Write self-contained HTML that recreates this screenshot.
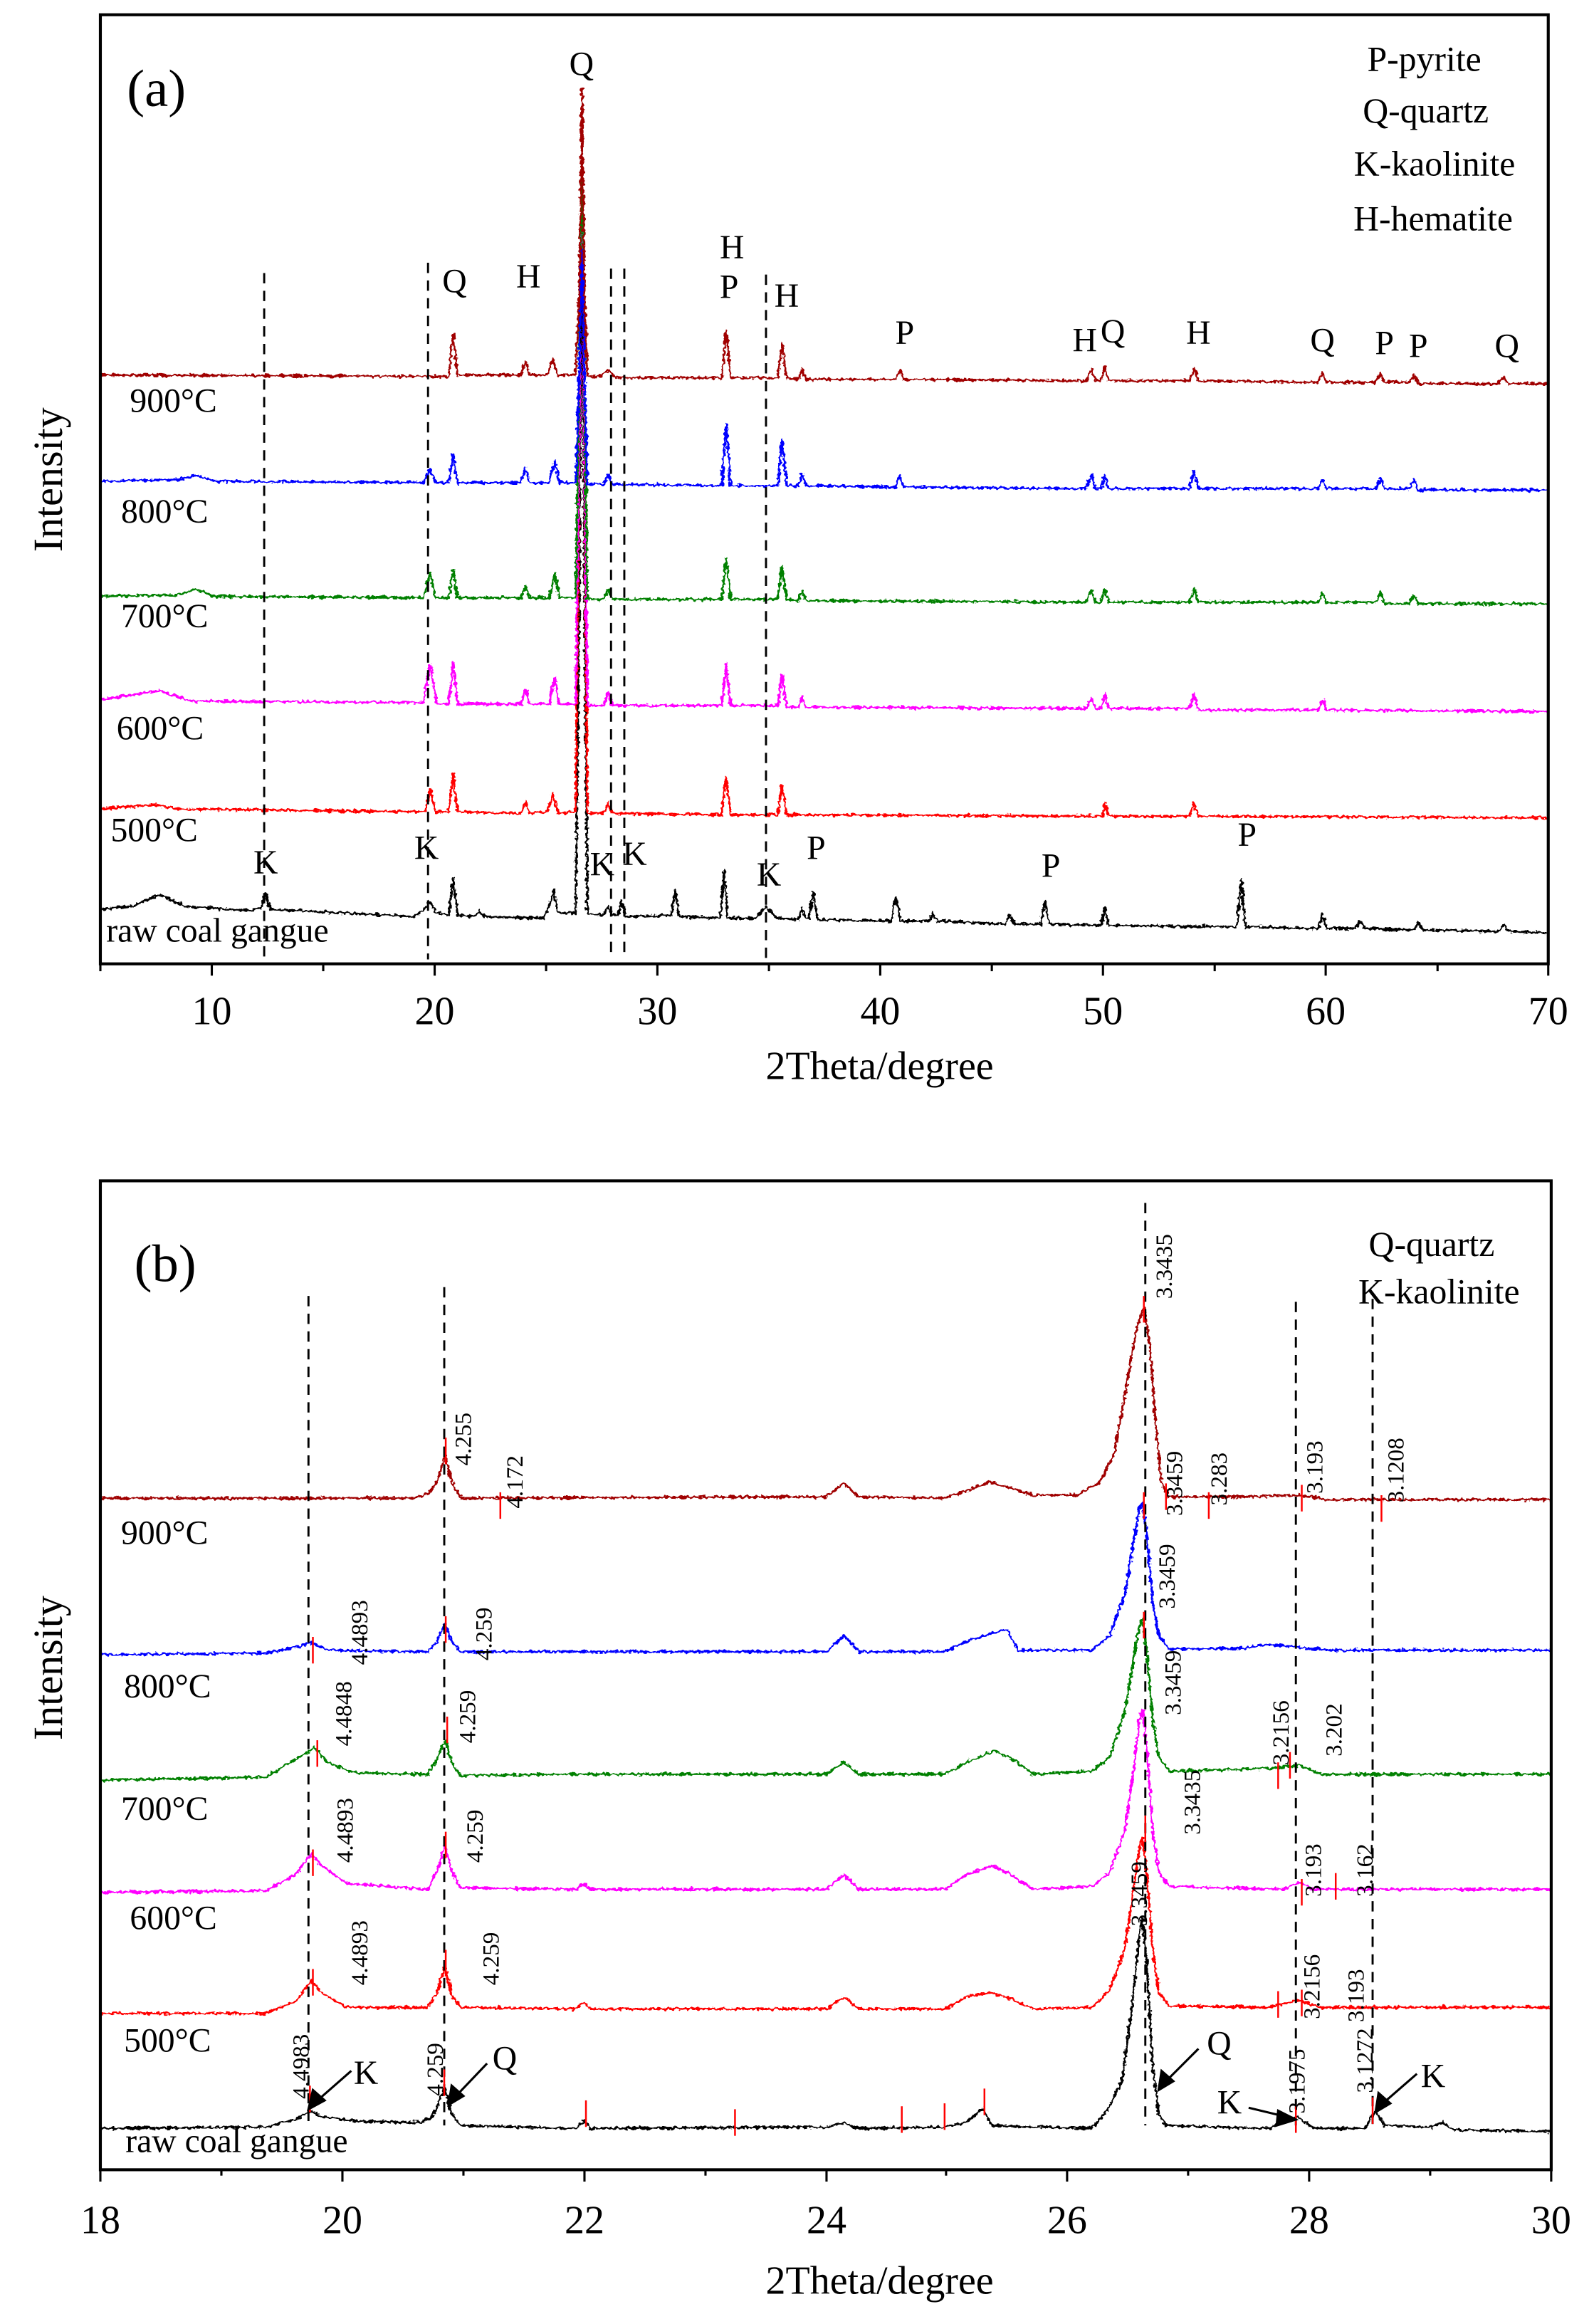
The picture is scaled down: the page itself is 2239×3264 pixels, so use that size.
<!DOCTYPE html>
<html><head><meta charset="utf-8">
<style>html,body{margin:0;padding:0;background:#fff}svg{display:block}text{font-family:"Liberation Serif",serif;fill:#000}</style>
</head><body>
<svg xmlns="http://www.w3.org/2000/svg" width="2239" height="3264" viewBox="0 0 1080 1574.5" preserveAspectRatio="none">
<defs>
<filter id="nz" filterUnits="userSpaceOnUse" x="0" y="0" width="1080" height="1575">
<feTurbulence type="fractalNoise" baseFrequency="0.4" numOctaves="2" seed="3" result="t"/>
<feDisplacementMap in="SourceGraphic" in2="t" scale="3.5" xChannelSelector="R" yChannelSelector="G"/>
</filter>
</defs>
<rect x="0" y="0" width="1080" height="1575" fill="#fff"/>
<g fill="none" stroke-width="1.5" stroke-linejoin="round" filter="url(#nz)">
<path stroke="#000" d="M68,616 L90,614 L108,606 L125,614 L170,617 L177,615 L180,605 L183,616 L280,621 L287,617 L291,610 L295,618 L304,620 L307,595 L310,620 L322,621 L325,617 L328,621 L368,622 L372,614 L375,603 L378,618 L390,619 L392,450 L394.3,150 L396.5,450 L398,619 L409,620 L412,614 L415,620 L419,620 L421,610 L424,621 L455,620 L457.4,603 L460,621 L488,622 L490.6,590 L493,622 L512,622 L519,614 L526,622 L541,623 L543.4,615 L546,622 L548,622 L551,604 L554,623 L604,624 L607,608 L610,624 L630,624 L632,618 L635,624 L681,626 L684,620 L687,626 L705,626 L708,610 L711,626 L746,627 L748.6,614 L751,627 L838,628 L841,596 L844,628 L893,629 L896,620 L899,629 L918,629 L921.6,624 L925,629 L958,630 L961,625 L964,630 L1016,631 L1019,626 L1022,631 L1049,632"/>
<path stroke="#f00" d="M68,548 L105,545 L120,548 L288,550 L291.4,534 L295,550 L304,550 L307,524 L310,550 L353,551 L356,543 L359,551 L371,550 L374.4,537 L378,551 L390,550 L392.5,300 L394.3,60 L396,300 L398,551 L409,551 L412,544 L415,551 L489,552 L492,526 L495,552 L527,552 L529.8,532 L533,552 L747,553 L748.6,544 L751,553 L806,553 L809,544 L812,553 L1049,554"/>
<path stroke="#f0f" d="M68,474 L108,468 L130,475 L287,476 L291.4,450 L296,477 L304,477 L307,449 L310,477 L353,477 L356,467 L359,477 L372,477 L375.9,459 L379,477 L390,477 L392.5,300 L394.3,80 L396,300 L398,478 L409,478 L412,469 L415,478 L489,478 L492,450 L495,478 L527,478 L529.8,457 L533,479 L541,479 L543.4,472 L546,479 L736,480 L739.6,473 L742,480 L746,480 L748.6,470 L751,480 L806,480 L809,470 L812,481 L893,481 L896,474 L899,481 L1049,482"/>
<path stroke="#008000" d="M68,404 L120,403 L133,399 L145,404 L287,405 L291.4,388 L295,405 L304,405 L307,386 L310,405 L353,405 L356,397 L359,405 L372,405 L375.9,389 L379,405 L390,405 L392.5,250 L394.3,80 L396,250 L398,406 L409,406 L412,399 L415,406 L489,406 L492,378 L495,406 L527,406 L529.8,384 L533,406 L541,407 L543.4,400 L546,407 L736,408 L739.6,400 L742,408 L746,408 L748.6,399 L751,408 L806,408 L809,399 L812,408 L893,408 L896,402 L899,408 L932,408 L935.4,401 L938,409 L955,409 L958,403 L961,409 L1049,409"/>
<path stroke="#00f" d="M68,326 L120,325 L133,322 L145,326 L287,327 L291.4,318 L295,327 L304,327 L307,308 L310,327 L353,327 L356,317 L359,327 L372,327 L375.9,312 L379,327 L390,327 L392.5,250 L394.3,170 L396,250 L398,328 L409,328 L412,322 L415,328 L489,329 L492,287 L495,329 L527,329 L529.8,298 L533,329 L541,329 L543.4,321 L546,329 L607,330 L609.8,322 L612,330 L736,331 L739.6,321 L742,331 L746,331 L748.6,322 L751,331 L806,331 L809,319 L812,331 L893,331 L896,325 L899,331 L932,331 L935.4,324 L938,331 L955,331 L958,325 L961,332 L1049,332"/>
<path stroke="#a00000" d="M68,254 L280,255 L304,255 L307,226 L310,254 L353,254 L356,245 L359,254 L371,254 L374.4,243 L378,254 L390,254 L392.5,200 L394.3,60 L396,200 L398,255 L407,255 L412,251 L417,256 L489,256 L492,224 L495,256 L527,256 L529.8,232 L533,256 L541,257 L543.4,250 L546,257 L607,257 L609.8,251 L612,257 L736,258 L739.6,250 L742,258 L746,258 L748.6,248 L751,258 L806,258 L809,249 L812,258 L893,259 L896,253 L899,259 L932,259 L935.4,253 L938,259 L955,259 L958,254 L961,260 L1015,260 L1018.8,255 L1022,260 L1049,260"/>
<path stroke="#000" d="M68,1442 L180,1441 L200,1436 L211,1430 L218,1434 L240,1437 L285,1438 L293,1434 L297,1425 L301.5,1414 L305,1430 L312,1440 L390,1442 L395.7,1437 L400,1442 L560,1441 L571.8,1438 L580,1442 L640,1441 L655,1438 L666,1428 L672,1440 L740,1442 L750,1430 L760,1410 L767,1360 L772,1310 L774,1300 L777,1330 L781,1400 L785,1432 L790,1440 L860,1442 L870,1436 L879,1434 L890,1442 L925,1442 L932,1430 L938,1440 L970,1441 L977,1438 L985,1443 L1051,1444"/>
<path stroke="#f00" d="M68,1364 L180,1364 L200,1356 L211,1342 L218,1350 L235,1360 L290,1360 L296,1350 L301.5,1332 L306,1352 L312,1360 L390,1361 L395.7,1357 L400,1361 L560,1361 L571.8,1353 L582,1361 L640,1361 L655,1353 L670,1350 L685,1354 L700,1361 L740,1360 L752,1348 L762,1320 L768,1280 L772,1252 L774,1245 L777,1270 L781,1320 L785,1350 L792,1359 L860,1360 L880,1355 L895,1360 L1051,1360"/>
<path stroke="#f0f" d="M68,1282 L180,1281 L200,1270 L211,1256 L218,1264 L235,1276 L290,1280 L296,1268 L301.5,1250 L306,1268 L312,1279 L390,1280 L395.7,1276 L400,1280 L560,1280 L571.8,1270 L582,1280 L640,1280 L655,1270 L672,1264 L685,1270 L700,1280 L740,1278 L752,1268 L762,1240 L768,1200 L772,1165 L774,1158 L777,1185 L781,1240 L785,1268 L792,1278 L870,1280 L880,1275 L890,1280 L1051,1280"/>
<path stroke="#008000" d="M68,1206 L180,1204 L200,1192 L213,1184 L222,1194 L240,1201 L290,1202 L296,1192 L301.5,1179 L306,1194 L312,1203 L390,1202 L560,1202 L571.8,1194 L582,1202 L640,1202 L655,1194 L674,1186 L688,1193 L700,1202 L740,1200 L752,1190 L762,1160 L768,1125 L772,1102 L774,1097 L777,1120 L781,1165 L785,1190 L792,1200 L860,1198 L880,1196 L895,1202 L1051,1202"/>
<path stroke="#00f" d="M68,1121 L180,1120 L200,1116 L211,1113 L222,1118 L290,1119 L296,1112 L301.5,1100 L306,1112 L312,1119 L560,1119 L571.8,1108 L582,1119 L640,1119 L655,1112 L674,1106 L682,1104 L690,1118 L740,1118 L752,1108 L762,1080 L768,1045 L772,1022 L774,1018 L777,1040 L781,1085 L785,1108 L792,1117 L840,1117 L860,1114 L880,1116 L900,1118 L1051,1118"/>
<path stroke="#a00000" d="M68,1015 L280,1015 L290,1012 L296,1004 L301.5,986 L306,1004 L312,1015 L560,1014 L571.8,1005 L582,1014 L640,1015 L655,1010 L670,1004 L685,1008 L700,1013 L730,1013 L745,1004 L755,985 L763,940 L770,900 L775,885 L779,910 L783,965 L787,1005 L792,1014 L840,1014 L880,1013 L900,1016 L1051,1016"/>
</g>
<g stroke="#000" stroke-width="1.4" stroke-dasharray="7,5" fill="none">
<line x1="179" y1="185" x2="179" y2="650"/>
<line x1="290" y1="178" x2="290" y2="650"/>
<line x1="414" y1="182" x2="414" y2="650"/>
<line x1="423" y1="182" x2="423" y2="650"/>
<line x1="519" y1="186" x2="519" y2="650"/>
<line x1="209" y1="878" x2="209" y2="1440"/>
<line x1="301" y1="872" x2="301" y2="1440"/>
<line x1="776" y1="815" x2="776" y2="1440"/>
<line x1="878" y1="882" x2="878" y2="1440"/>
<line x1="930" y1="880" x2="930" y2="1440"/>
</g>
<g stroke="#000" stroke-width="1.5">
<line x1="68" y1="653" x2="68" y2="658"/><line x1="143.5" y1="653" x2="143.5" y2="661"/><line x1="219" y1="653" x2="219" y2="658"/><line x1="294.5" y1="653" x2="294.5" y2="661"/><line x1="370" y1="653" x2="370" y2="658"/><line x1="445.4" y1="653" x2="445.4" y2="661"/><line x1="521" y1="653" x2="521" y2="658"/><line x1="596.4" y1="653" x2="596.4" y2="661"/><line x1="672" y1="653" x2="672" y2="658"/><line x1="747.3" y1="653" x2="747.3" y2="661"/><line x1="823" y1="653" x2="823" y2="658"/><line x1="898.2" y1="653" x2="898.2" y2="661"/><line x1="974" y1="653" x2="974" y2="658"/><line x1="1049" y1="653" x2="1049" y2="661"/>
<line x1="68" y1="1470" x2="68" y2="1478"/><line x1="150" y1="1470" x2="150" y2="1474"/><line x1="232" y1="1470" x2="232" y2="1478"/><line x1="314" y1="1470" x2="314" y2="1474"/><line x1="396" y1="1470" x2="396" y2="1478"/><line x1="478" y1="1470" x2="478" y2="1474"/><line x1="560" y1="1470" x2="560" y2="1478"/><line x1="641" y1="1470" x2="641" y2="1474"/><line x1="723" y1="1470" x2="723" y2="1478"/><line x1="805" y1="1470" x2="805" y2="1474"/><line x1="887" y1="1470" x2="887" y2="1478"/><line x1="969" y1="1470" x2="969" y2="1474"/><line x1="1051" y1="1470" x2="1051" y2="1478"/>
</g>
<g stroke="#f00" stroke-width="1.2">
<line x1="775" y1="878" x2="775" y2="896"/><line x1="302" y1="974" x2="302" y2="992"/><line x1="339" y1="1011" x2="339" y2="1029"/><line x1="790" y1="1005" x2="790" y2="1023"/><line x1="819" y1="1011" x2="819" y2="1029"/><line x1="882" y1="1006" x2="882" y2="1024"/><line x1="936" y1="1013" x2="936" y2="1031"/><line x1="212" y1="1109" x2="212" y2="1127"/><line x1="302" y1="1095" x2="302" y2="1113"/><line x1="775" y1="1011" x2="775" y2="1029"/><line x1="215" y1="1179" x2="215" y2="1197"/><line x1="303" y1="1163" x2="303" y2="1181"/><line x1="866" y1="1194" x2="866" y2="1212"/><line x1="874" y1="1187" x2="874" y2="1205"/><line x1="212" y1="1253" x2="212" y2="1271"/><line x1="302" y1="1241" x2="302" y2="1259"/><line x1="882" y1="1273" x2="882" y2="1291"/><line x1="905" y1="1269" x2="905" y2="1287"/><line x1="775" y1="1092" x2="775" y2="1110"/><line x1="212" y1="1334" x2="212" y2="1352"/><line x1="302" y1="1321" x2="302" y2="1339"/><line x1="866" y1="1349" x2="866" y2="1367"/><line x1="882" y1="1348" x2="882" y2="1366"/><line x1="210" y1="1413" x2="210" y2="1431"/><line x1="301" y1="1402" x2="301" y2="1420"/><line x1="878" y1="1427" x2="878" y2="1445"/><line x1="930" y1="1421" x2="930" y2="1439"/><line x1="397" y1="1423" x2="397" y2="1441"/><line x1="498" y1="1429" x2="498" y2="1447"/><line x1="611" y1="1427" x2="611" y2="1445"/><line x1="640" y1="1425" x2="640" y2="1443"/><line x1="667" y1="1415" x2="667" y2="1433"/><line x1="776" y1="1230" x2="776" y2="1248"/>
</g>
<rect x="68" y="10" width="981" height="643" fill="none" stroke="#000" stroke-width="2"/>
<rect x="68" y="800" width="983" height="670" fill="none" stroke="#000" stroke-width="2"/>
<g font-size="27" text-anchor="middle">
<text x="143.5" y="694">10</text><text x="294.5" y="694">20</text><text x="445.4" y="694">30</text><text x="596.4" y="694">40</text><text x="747.3" y="694">50</text><text x="898.2" y="694">60</text><text x="1049" y="694">70</text>
<text x="68" y="1513">18</text><text x="232" y="1513">20</text><text x="396" y="1513">22</text><text x="560" y="1513">24</text><text x="723" y="1513">26</text><text x="887" y="1513">28</text><text x="1051" y="1513">30</text>
</g>
<text x="596" y="731" font-size="27" text-anchor="middle">2Theta/degree</text>
<text x="596" y="1554" font-size="27" text-anchor="middle">2Theta/degree</text>
<text transform="translate(42,325) rotate(-90)" font-size="28" text-anchor="middle">Intensity</text>
<text transform="translate(42,1130) rotate(-90)" font-size="28" text-anchor="middle">Intensity</text>
<text x="86" y="72" font-size="36">(a)</text>
<text x="91" y="868" font-size="36">(b)</text>
<g font-size="24" text-anchor="middle">
<text x="965" y="48">P-pyrite</text><text x="966" y="83">Q-quartz</text><text x="972" y="119">K-kaolinite</text><text x="971" y="156">H-hematite</text>
<text x="970" y="851">Q-quartz</text><text x="975" y="883">K-kaolinite</text>
</g>
<g font-size="23">
<text x="88" y="279">900°C</text><text x="82" y="354">800°C</text><text x="82" y="425">700°C</text><text x="79" y="501">600°C</text><text x="75" y="570">500°C</text><text x="72" y="638">raw coal gangue</text>
<text x="82" y="1046">900°C</text><text x="84" y="1150">800°C</text><text x="82" y="1233">700°C</text><text x="88" y="1307">600°C</text><text x="84" y="1390">500°C</text><text x="85" y="1458">raw coal gangue</text>
</g>
<g font-size="23" text-anchor="middle">
<text x="394" y="51">Q</text><text x="308" y="198">Q</text><text x="358" y="195">H</text><text x="496" y="175">H</text><text x="494" y="202">P</text><text x="533" y="208">H</text><text x="613" y="233">P</text><text x="735" y="238">H</text><text x="754" y="232">Q</text><text x="812" y="233">H</text><text x="896" y="238">Q</text><text x="938" y="240">P</text><text x="961" y="242">P</text><text x="1021" y="242">Q</text>
<text x="180" y="592">K</text><text x="289" y="582">K</text><text x="408" y="593">K</text><text x="430" y="586">K</text><text x="521" y="600">K</text><text x="553" y="582">P</text><text x="712" y="594">P</text><text x="845" y="573">P</text>
<text x="248" y="1412">K</text><text x="342" y="1402">Q</text><text x="826" y="1392">Q</text><text x="833" y="1432">K</text><text x="971" y="1414">K</text>
</g>
<g stroke="#000" stroke-width="1.5" fill="#000">
<line x1="238" y1="1403" x2="214" y2="1424"/><polygon points="209,1429 212,1416 220,1423"/>
<line x1="330" y1="1398" x2="309" y2="1420"/><polygon points="304,1426 306,1413 314,1420"/>
<line x1="812" y1="1388" x2="790" y2="1410"/><polygon points="785,1416 787,1403 795,1410"/>
<line x1="846" y1="1428" x2="871" y2="1434"/><polygon points="878,1436 866,1430 865,1440"/>
<line x1="960" y1="1405" x2="937" y2="1425"/><polygon points="932,1431 934,1418 942,1425"/>
</g>
<g font-size="16">
<text transform="translate(794,880) rotate(-90)">3.3435</text>
<text transform="translate(319,993) rotate(-90)">4.255</text>
<text transform="translate(354,1022) rotate(-90)">4.172</text>
<text transform="translate(801,1027) rotate(-90)">3.3459</text>
<text transform="translate(831,1020) rotate(-90)">3.283</text>
<text transform="translate(896,1012) rotate(-90)">3.193</text>
<text transform="translate(951,1018) rotate(-90)">3.1208</text>
<text transform="translate(249,1128) rotate(-90)">4.4893</text>
<text transform="translate(333,1125) rotate(-90)">4.259</text>
<text transform="translate(796,1090) rotate(-90)">3.3459</text>
<text transform="translate(800,1162) rotate(-90)">3.3459</text>
<text transform="translate(238,1183) rotate(-90)">4.4848</text>
<text transform="translate(322,1181) rotate(-90)">4.259</text>
<text transform="translate(873,1196) rotate(-90)">3.2156</text>
<text transform="translate(909,1190) rotate(-90)">3.202</text>
<text transform="translate(813,1243) rotate(-90)">3.3435</text>
<text transform="translate(239,1262) rotate(-90)">4.4893</text>
<text transform="translate(327,1262) rotate(-90)">4.259</text>
<text transform="translate(895,1285) rotate(-90)">3.193</text>
<text transform="translate(930,1285) rotate(-90)">3.162</text>
<text transform="translate(777,1305) rotate(-90)">3.3459</text>
<text transform="translate(249,1345) rotate(-90)">4.4893</text>
<text transform="translate(338,1345) rotate(-90)">4.259</text>
<text transform="translate(894,1368) rotate(-90)">3.2156</text>
<text transform="translate(924,1370) rotate(-90)">3.193</text>
<text transform="translate(209,1422) rotate(-90)">4.4983</text>
<text transform="translate(300,1420) rotate(-90)">4.259</text>
<text transform="translate(884,1432) rotate(-90)">3.1975</text>
<text transform="translate(930,1418) rotate(-90)">3.1272</text>
</g>
</svg>
</body></html>
